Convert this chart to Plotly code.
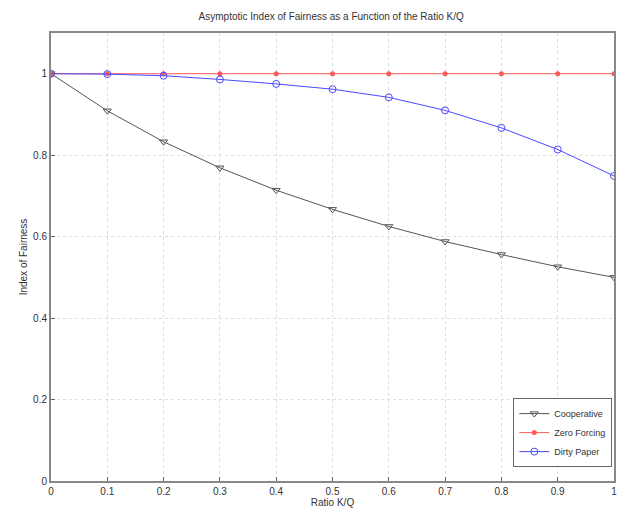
import plotly.graph_objects as go

ratio = [0, 0.1, 0.2, 0.3, 0.4, 0.5, 0.6, 0.7, 0.8, 0.9, 1.0]
cooperative = [1.0, 0.909, 0.833, 0.769, 0.714, 0.667, 0.625, 0.588, 0.556, 0.526, 0.5]
zero_forcing = [1.0, 1.0, 1.0, 1.0, 1.0, 1.0, 1.0, 1.0, 1.0, 1.0, 1.0]
dirty_paper = [1.0, 0.999, 0.995, 0.986, 0.975, 0.962, 0.942, 0.910, 0.867, 0.814, 0.749]
x_ticks = [0, 0.1, 0.2, 0.3, 0.4, 0.5, 0.6, 0.7, 0.8, 0.9, 1]
x_tick_labels = ["0", "0.1", "0.2", "0.3", "0.4", "0.5", "0.6", "0.7", "0.8", "0.9", "1"]
y_ticks = [0, 0.2, 0.4, 0.6, 0.8, 1]
y_tick_labels = ["0", "0.2", "0.4", "0.6", "0.8", "1"]

font = dict(family="Liberation Sans, Arial, sans-serif", size=10, color="#333")

fig = go.Figure()
fig.add_trace(go.Scatter(x=ratio, y=cooperative, name="Cooperative", mode="lines+markers",
                         line=dict(color="#555555", width=1),
                         marker=dict(symbol="triangle-down-open", size=7, color="#555555", line=dict(width=1))))
fig.add_trace(go.Scatter(x=ratio, y=zero_forcing, name="Zero Forcing", mode="lines+markers",
                         line=dict(color="#ff5a5a", width=1),
                         marker=dict(symbol="circle", size=5, color="#ff5a5a")))
fig.add_trace(go.Scatter(x=ratio, y=dirty_paper, name="Dirty Paper", mode="lines+markers",
                         line=dict(color="#4a4aff", width=1),
                         marker=dict(symbol="circle-open", size=7, color="#4a4aff", line=dict(width=1))))

axis_common = dict(showline=True, linecolor="#888", linewidth=2, mirror=True,
                   ticks="inside", ticklen=4, tickcolor="#666",
                   showgrid=True, gridcolor="#dddddd", griddash="dot", gridwidth=1,
                   zeroline=False, tickfont=font)

fig.update_layout(
    width=619, height=513,
    margin=dict(l=51, r=3, t=33, b=32),
    paper_bgcolor="white", plot_bgcolor="white",
    title=dict(text="Asymptotic Index of Fairness as a Function of the Ratio K/Q",
               x=0.535, xanchor="center", y=0.967, yanchor="middle", font=font),
    xaxis=dict(range=[0, 1], tickvals=x_ticks, ticktext=x_tick_labels,
               title=dict(text="Ratio K/Q", font=font, standoff=2), **axis_common),
    yaxis=dict(range=[0, 1.1], tickvals=y_ticks, ticktext=y_tick_labels,
               title=dict(text="Index of Fairness", font=font, standoff=4), **axis_common),
    legend=dict(x=0.997, xanchor="right", y=0.185, yanchor="top",
                bgcolor="white", bordercolor="#666", borderwidth=1,
                font=dict(family="Liberation Sans, Arial, sans-serif", size=9, color="#333"),
                tracegroupgap=0, itemwidth=30),
    showlegend=True,
)

fig.write_html("out.html")
